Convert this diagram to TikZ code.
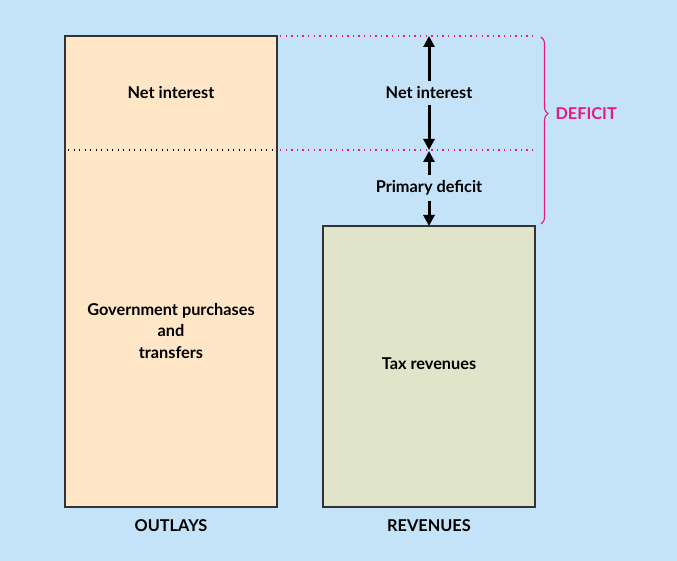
\documentclass[tikz,border=0pt]{standalone}
\usepackage{fontspec}
\setmainfont{Lato}
\usetikzlibrary{arrows.meta,decorations.pathreplacing}
\definecolor{bgblue}{HTML}{C4E2F8}
\definecolor{outfill}{HTML}{FEE6C6}
\definecolor{revfill}{HTML}{E0E4C8}
\definecolor{pinkc}{HTML}{E8197F}
\definecolor{boxline}{HTML}{333333}
\tikzset{
  box/.style={draw=boxline, line width=1.2pt},
  lbl/.style={font=\fontsize{16.3}{21.5}\selectfont\bfseries, align=center, inner sep=1pt},
  pinkdot/.style={draw=pinkc, line width=1.4pt, dash pattern=on 1.4pt off 4.2pt},
  blackdot/.style={draw=black, line width=1.3pt, dash pattern=on 1.3pt off 4.2pt},
  darr/.style={line width=3pt, -{Triangle[width=11pt,length=11pt]}}
}
\begin{document}
\begin{tikzpicture}[x=1pt,y=-1pt]
\fill[bgblue] (0,0) rectangle (677,561);
\useasboundingbox (0,0) rectangle (677,561);
% boxes
\draw[box, fill=outfill] (65,36) rectangle (277,507);
\draw[box, fill=revfill] (323,226) rectangle (535,507);
\coordinate (lt) at (280,36);
\coordinate (rt) at (533,36);
\coordinate (lm) at (280,150);
\coordinate (rm) at (533,150);
\coordinate (bl) at (68,150);
\coordinate (br) at (276,150);
\draw[pinkdot] (lt) -- (rt);
\draw[pinkdot] (lm) -- (rm);
\draw[blackdot] (bl) -- (br);
% texts
\node[lbl] (ni1) at (171,93) {Net interest};
\node[lbl] (gov) at (171,331) {Government purchases\\and\\transfers};
\node[lbl] (tax) at (429,364) {Tax revenues};
\node[lbl] (outl) at (171,526) {OUTLAYS};
\node[lbl] (rev) at (429,526) {REVENUES};
% arrows
\coordinate (atop) at (429,36);
\coordinate (amid1) at (429,150);
\coordinate (amid2) at (429,151);
\coordinate (abot) at (429,226);
\node[lbl, inner ysep=6pt] (ni2) at (429,93) {Net interest};
\node[lbl, inner ysep=5pt] (pd) at (429,188) {Primary deficit};
\draw[darr] (ni2.north) -- (atop);
\draw[darr] (ni2.south) -- (amid1);
\draw[darr] (pd.north) -- (amid2);
\draw[darr] (pd.south) -- (abot);
% brace
\coordinate (bt) at (541,37);
\coordinate (bb) at (541,224);
\draw[pinkc, line width=1.1pt, decorate, decoration={brace, amplitude=7pt, aspect=0.41}] (bt) -- (bb) node[pos=0.41, right=14pt, text=pinkc, lbl, inner sep=0pt] (def) {DEFICIT};
\end{tikzpicture}
\end{document}
